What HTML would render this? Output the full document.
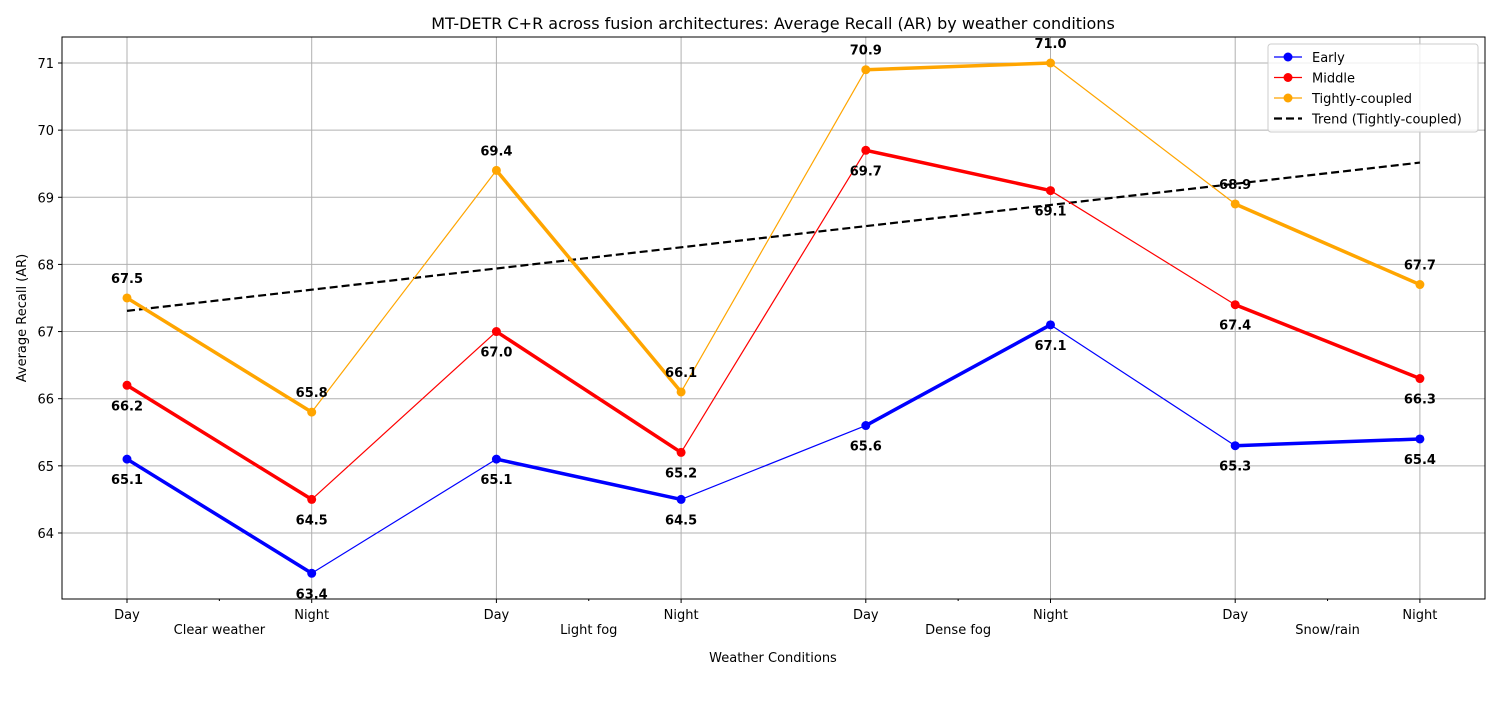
<!DOCTYPE html>
<html><head><meta charset="utf-8"><style>
body{margin:0;background:#fff;font-family:"Liberation Sans","DejaVu Sans",sans-serif}
svg text{font-family:"DejaVu Sans","Liberation Sans",sans-serif}
</style></head><body>
<svg id="c" width="1500" height="700" xmlns="http://www.w3.org/2000/svg"></svg>
<script>
const categories=["Day","Night","Day","Night","Day","Night","Day","Night"];
const groups=["Clear weather","Light fog","Dense fog","Snow/rain"];
const early=[65.1,63.4,65.1,64.5,65.6,67.1,65.3,65.4];
const middle=[66.2,64.5,67.0,65.2,69.7,69.1,67.4,66.3];
const tight=[67.5,65.8,69.4,66.1,70.9,71.0,68.9,67.7];
const yTicks=[64,65,66,67,68,69,70,71];
const NS="http://www.w3.org/2000/svg";
const svg=document.getElementById('c');
const L=62,R=1485,T=37,B=599;
const x=i=>127+i*184.7;
const y=v=>63+(71-v)*67.14;
function el(t,a,p){const e=document.createElementNS(NS,t);for(const k in a)e.setAttribute(k,a[k]);(p||svg).appendChild(e);return e;}
function txt(s,a){const e=el('text',a);e.textContent=s;return e;}
const grid=el('g',{});
yTicks.forEach(v=>{el('line',{x1:L,x2:R,y1:y(v),y2:y(v),stroke:'#b0b0b0','stroke-width':1},grid);
 el('line',{x1:L-4,x2:L,y1:y(v),y2:y(v),stroke:'#000'});
 const t=txt(String(v),{x:L-8,y:y(v)+5,'text-anchor':'end','font-size':13});});
categories.forEach((c,i)=>{el('line',{x1:x(i),x2:x(i),y1:T,y2:B,stroke:'#b0b0b0','stroke-width':1},grid);
 el('line',{x1:x(i),x2:x(i),y1:B,y2:B+4,stroke:'#000'});
 const t=txt(c,{x:x(i),y:B+20,'text-anchor':'middle','font-size':13});});
groups.forEach((g,k)=>{const m=(x(2*k)+x(2*k+1))/2;el('line',{x1:m,x2:m,y1:B,y2:B+2,stroke:'#000'});
 const t=txt(g,{x:m,y:634,'text-anchor':'middle','font-size':13});});
function series(vals,color,name,above){
 const g=el('g',{});
 for(let i=0;i<vals.length-1;i++){const thick=i%2===0;
  el('line',{x1:x(i),y1:y(vals[i]),x2:x(i+1),y2:y(vals[i+1]),stroke:color,'stroke-width':thick?3.5:1.2},g);}
 vals.forEach((v,i)=>{const c=el('circle',{cx:x(i),cy:y(v),r:4.5,fill:color},g);
  const t=txt(v.toFixed(1),{x:x(i),y:y(v)+(above?-15:25),'text-anchor':'middle','font-size':13,'font-weight':'bold'});});
}
// trend
const n=tight.length,mx=(n-1)/2,my=tight.reduce((a,b)=>a+b)/n;
let sxy=0,sxx=0;tight.forEach((v,i)=>{sxy+=(i-mx)*(v-my);sxx+=(i-mx)*(i-mx);});
const sl=sxy/sxx,ic=my-sl*mx;
const tr=el('line',{x1:x(0),y1:y(ic),x2:x(n-1),y2:y(ic+sl*(n-1)),stroke:'#000','stroke-width':2.2,'stroke-dasharray':'8,4'});

series(early,'#0000ff','early',false);
series(middle,'#ff0000','middle',false);
series(tight,'#ffa500','tightly-coupled',true);
el('rect',{x:L,y:T,width:R-L,height:B-T,fill:'none',stroke:'#000','stroke-width':1});
let t=txt('MT-DETR C+R across fusion architectures: Average Recall (AR) by weather conditions',{x:773,y:29,'text-anchor':'middle','font-size':16});
t=txt('Weather Conditions',{x:773,y:662,'text-anchor':'middle','font-size':13});
t=txt('Average Recall (AR)',{x:0,y:0,'text-anchor':'middle','font-size':13,transform:'translate(26,318) rotate(-90)'});
const lg=el('g',{});
el('rect',{x:1268,y:44,width:210,height:88,rx:3,fill:'#fff','fill-opacity':0.8,stroke:'#ccc'},lg);
[['Early','#0000ff',0],['Middle','#ff0000',0],['Tightly-coupled','#ffa500',0],['Trend (Tightly-coupled)','#000',1]].forEach((e,k)=>{
 const yy=57+k*20.5;
 el('line',{x1:1274,x2:1302,y1:yy,y2:yy,stroke:e[1],'stroke-width':e[2]?2.2:1.2,'stroke-dasharray':e[2]?'8,4':'none'},lg);
 if(!e[2])el('circle',{cx:1288,cy:yy,r:4.5,fill:e[1]},lg);
 const tt=txt(e[0],{x:1312,y:yy+5,'font-size':13});
});
</script>
</body></html>
